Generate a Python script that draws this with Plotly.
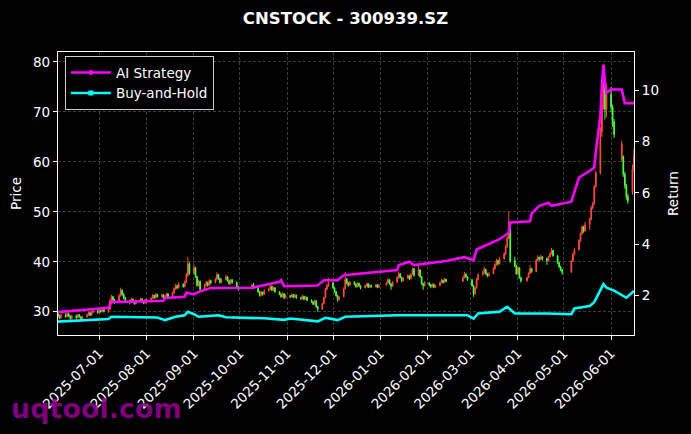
import pandas as pd
import plotly.graph_objects as go

# ---------------- data ----------------
start_date = "2025-06-04"
end_date = "2026-06-16"
holidays = ["2025-10-01", "2025-10-02", "2025-10-03", "2025-10-06", "2025-10-07", "2025-10-08",
            "2026-01-01", "2026-01-02",
            "2026-02-16", "2026-02-17", "2026-02-18", "2026-02-19", "2026-02-20", "2026-02-23",
            "2026-04-06", "2026-05-01", "2026-05-04", "2026-05-05",
            "2026-06-04", "2026-06-05"]

opens = [
    29.6, 29.2, 28.8,
    29.4, 29.0, 29.6, 29.1, 28.7,
    29.2, 28.8, 29.4, 29.0, 28.5,
    29.0, 29.4, 29.8, 29.3, 29.9,
    30.2, 29.8, 30.3, 30.0, 30.6,
    30.1, 30.5, 32.2, 33.0, 32.4,
    32.0, 33.2, 34.3, 33.5, 32.8,
    32.2, 31.9, 32.5, 32.0, 31.6,
    32.2, 32.6, 32.0, 31.7, 32.4,
    32.0, 32.7, 33.3, 32.8, 33.5,
    33.0, 33.4, 32.7, 33.1, 33.6,
    33.0, 33.8, 34.6, 35.2, 34.8,
    35.5, 35.0, 35.9, 37.3, 39.6,
    37.8, 38.8, 37.0, 35.3, 36.1,
    34.5, 35.3, 35.9, 35.3, 36.2,
    35.8, 36.5, 37.4, 36.6, 35.9,
    36.4, 37.0, 36.2, 35.6, 36.4,
    35.9, 35.0, 34.6, 35.3,
    34.9, 34.0, 33.3, 33.9, 33.5,
    34.2, 34.6, 35.1, 34.3, 34.8,
    34.0, 33.5, 33.0, 33.6, 32.8,
    33.2, 33.0, 33.4, 32.9, 33.3,
    32.8, 32.6, 33.1, 32.5, 32.9,
    32.3, 32.0, 31.5, 32.2, 31.0,
    30.5, 31.6, 32.8, 34.5, 35.2,
    35.8, 34.8, 34.0, 33.2, 32.5,
    33.0, 34.6, 36.5, 35.8, 35.3,
    35.9, 35.5, 35.0, 35.7, 35.2,
    34.8, 35.2, 35.6, 34.9, 35.3,
    35.0, 35.4, 34.9,
    35.3, 35.8, 36.4, 35.6, 35.1,
    35.9, 36.8, 37.6, 36.9, 36.2,
    36.7, 37.2, 36.6, 37.5, 38.6,
    37.3, 38.4, 37.0, 35.6, 35.2,
    35.8, 35.4, 35.0, 35.5, 34.9,
    35.2, 35.8, 36.3, 35.9, 36.5,
    36.1, 36.8, 37.5, 37.0,
    36.4, 35.2, 33.6, 34.8, 36.5,
    37.4, 37.8, 38.5, 37.6, 37.2,
    37.6, 38.6, 39.4, 40.2, 39.6,
    40.6, 41.5, 43.0, 44.8, 46.5,
    40.2, 39.2, 37.6, 38.8, 36.8,
    36.2, 36.8, 37.6, 38.6,
    38.0, 40.3, 40.9, 40.5, 41.0,
    40.6, 40.2, 41.0, 41.6, 42.3,
    41.2, 39.8, 39.0, 38.3,
    37.9, 40.2, 41.5,
    42.4, 44.2, 45.6, 47.0, 46.2,
    47.4, 48.5, 50.8, 51.6, 55.0,
    57.8, 66.0, 71.5, 76.5, 70.5,
    73.5, 71.0, 68.0,
    60.5, 61.0, 57.5, 55.2, 53.0,
    54.0, 58.5,
]
highs = [
    29.9, 29.4, 29.6,
    29.7, 29.8, 29.8, 29.3, 29.4,
    29.4, 29.6, 29.5, 29.1, 29.2,
    29.6, 30.0, 29.9, 30.1, 30.4,
    30.3, 30.5, 30.4, 30.8, 30.7,
    30.6, 32.5, 33.4, 33.2, 32.6,
    33.5, 34.8, 34.5, 33.7, 33.0,
    32.4, 32.8, 32.6, 32.1, 32.5,
    32.8, 32.7, 32.2, 32.6, 32.5,
    32.9, 33.5, 33.4, 33.7, 33.6,
    33.6, 33.5, 33.3, 33.8, 33.7,
    34.0, 34.9, 35.6, 35.4, 35.9,
    35.7, 36.3, 37.8, 41.0, 39.9,
    39.4, 39.0, 37.2, 36.4, 36.2,
    35.6, 36.2, 36.0, 36.5, 36.4,
    36.8, 37.9, 37.6, 36.8, 36.7,
    37.4, 37.1, 36.4, 36.6, 36.5,
    36.0, 35.2, 35.6, 35.8,
    35.0, 34.2, 34.2, 34.0, 34.5,
    34.9, 35.4, 35.2, 35.0, 34.9,
    34.1, 33.7, 33.9, 33.7, 33.5,
    33.3, 33.7, 33.5, 33.6, 33.4,
    33.0, 33.4, 33.2, 33.1, 33.0,
    32.5, 32.1, 32.4, 32.3, 31.2,
    31.8, 33.0, 34.8, 35.5, 36.8,
    36.0, 35.0, 34.2, 33.4, 33.2,
    34.9, 38.0, 36.8, 36.0, 36.2,
    36.1, 35.7, 35.9, 35.8, 35.3,
    35.4, 35.8, 35.7, 35.5, 35.4,
    35.6, 35.5, 35.5,
    36.0, 36.8, 36.5, 35.7, 36.1,
    37.1, 38.0, 37.7, 37.0, 36.9,
    37.5, 37.3, 37.7, 38.9, 38.7,
    39.4, 38.5, 37.1, 35.8, 36.1,
    35.9, 35.5, 35.7, 35.6, 35.4,
    36.0, 36.6, 36.4, 36.8, 36.6,
    37.1, 38.0, 37.7, 37.1,
    36.5, 35.4, 35.0, 36.8, 37.7,
    38.2, 39.0, 38.6, 37.8, 37.9,
    38.9, 39.7, 40.6, 40.4, 41.0,
    41.9, 43.4, 45.2, 50.0, 46.8,
    41.0, 39.4, 39.1, 38.9, 37.0,
    37.0, 37.9, 39.4, 38.8,
    40.6, 41.3, 41.0, 41.4, 41.1,
    40.8, 41.2, 41.9, 42.8, 42.4,
    41.3, 40.0, 39.2, 38.6,
    40.4, 41.8, 42.8,
    44.5, 45.9, 47.3, 47.2, 48.0,
    48.8, 51.2, 52.0, 55.4, 58.2,
    67.0, 72.5, 79.2, 77.0, 75.6,
    75.0, 71.5, 68.6,
    64.2, 61.3, 58.0, 55.6, 53.6,
    59.5, 62.6,
]
lows = [
    28.9, 28.5, 28.6,
    28.8, 28.9, 29.0, 28.4, 28.5,
    28.6, 28.7, 28.8, 28.3, 28.3,
    28.8, 29.2, 29.1, 29.2, 29.7,
    29.6, 29.7, 29.8, 29.9, 29.9,
    29.8, 30.4, 32.0, 32.1, 31.6,
    31.9, 33.0, 33.2, 32.5, 31.9,
    31.5, 31.7, 31.8, 31.4, 31.5,
    32.0, 31.8, 31.5, 31.6, 31.8,
    31.9, 32.5, 32.6, 32.7, 32.8,
    32.9, 32.5, 32.5, 33.0, 32.8,
    32.9, 33.6, 34.4, 34.5, 34.7,
    34.8, 34.9, 35.7, 37.0, 37.4,
    37.5, 36.8, 35.0, 35.1, 34.2,
    34.4, 35.1, 35.0, 35.2, 35.5,
    35.7, 36.3, 36.4, 35.6, 35.7,
    36.2, 36.0, 35.4, 35.5, 35.6,
    34.8, 34.2, 34.5, 34.6,
    33.8, 33.0, 33.2, 33.2, 33.4,
    34.0, 34.4, 34.1, 34.2, 33.8,
    33.3, 32.8, 32.9, 32.5, 32.7,
    32.7, 32.9, 32.7, 32.8, 32.6,
    32.4, 32.5, 32.3, 32.4, 32.1,
    31.8, 31.3, 31.4, 30.8, 30.0,
    30.4, 31.5, 32.7, 34.3, 35.0,
    34.6, 33.8, 33.0, 32.0, 32.2,
    32.9, 34.5, 35.5, 35.0, 35.2,
    35.3, 34.8, 34.9, 35.0, 34.5,
    34.7, 35.1, 34.7, 34.8, 34.8,
    34.9, 34.7, 34.8,
    35.2, 35.7, 35.4, 34.4, 35.0,
    35.8, 36.6, 36.7, 35.9, 36.1,
    36.6, 36.3, 36.5, 37.4, 37.0,
    37.2, 36.8, 35.4, 34.4, 35.1,
    35.1, 34.7, 34.9, 34.7, 34.8,
    35.1, 35.7, 35.6, 35.8, 35.9,
    36.0, 36.7, 36.8, 36.2,
    35.0, 33.0, 33.4, 34.6, 36.3,
    37.2, 37.6, 37.4, 36.9, 37.1,
    37.5, 38.4, 39.2, 39.3, 39.5,
    40.4, 41.3, 42.8, 44.5, 39.8,
    38.9, 37.4, 37.5, 36.6, 35.8,
    36.0, 36.7, 37.5, 37.8,
    37.9, 40.1, 40.2, 40.4, 40.2,
    39.4, 40.1, 40.9, 41.5, 41.0,
    39.6, 38.8, 38.1, 37.4,
    37.8, 40.0, 41.3,
    42.3, 44.0, 45.4, 45.8, 46.0,
    46.4, 48.3, 50.5, 51.4, 54.8,
    57.5, 65.0, 70.5, 68.5, 69.0,
    70.0, 67.0, 64.8,
    60.0, 57.0, 54.6, 52.4, 51.6,
    53.4, 58.0,
]
closes = [
    29.2, 28.8, 29.4,
    29.0, 29.6, 29.1, 28.7, 29.2,
    28.8, 29.4, 29.0, 28.5, 29.0,
    29.4, 29.8, 29.3, 29.9, 30.2,
    29.8, 30.3, 30.0, 30.6, 30.1,
    30.4, 32.2, 33.0, 32.4, 32.0,
    33.2, 34.3, 33.5, 32.8, 32.2,
    31.9, 32.5, 32.0, 31.6, 32.2,
    32.6, 32.0, 31.7, 32.4, 32.0,
    32.7, 33.3, 32.8, 33.5, 33.0,
    33.4, 32.7, 33.1, 33.6, 33.0,
    33.8, 34.6, 35.2, 34.8, 35.5,
    35.0, 35.9, 37.3, 39.6, 37.8,
    38.8, 37.0, 35.3, 36.1, 34.5,
    35.3, 35.9, 35.3, 36.2, 35.8,
    36.5, 37.4, 36.6, 35.9, 36.4,
    37.0, 36.2, 35.6, 36.4, 35.9,
    35.0, 34.6, 35.3, 34.9,
    34.0, 33.3, 33.9, 33.5, 34.2,
    34.6, 35.1, 34.3, 34.8, 34.0,
    33.5, 33.0, 33.6, 32.8, 33.2,
    33.0, 33.4, 32.9, 33.3, 32.8,
    32.6, 33.1, 32.5, 32.9, 32.3,
    32.0, 31.5, 32.2, 31.0, 30.5,
    31.6, 32.8, 34.5, 35.2, 35.8,
    34.8, 34.0, 33.2, 32.5, 33.0,
    34.6, 36.5, 35.8, 35.3, 35.9,
    35.5, 35.0, 35.7, 35.2, 34.8,
    35.2, 35.6, 34.9, 35.3, 35.0,
    35.4, 34.9, 35.3,
    35.8, 36.4, 35.6, 35.1, 35.9,
    36.8, 37.6, 36.9, 36.2, 36.7,
    37.2, 36.6, 37.5, 38.6, 37.3,
    38.4, 37.0, 35.6, 35.2, 35.8,
    35.4, 35.0, 35.5, 34.9, 35.2,
    35.8, 36.3, 35.9, 36.5, 36.1,
    36.8, 37.5, 37.0, 36.4,
    35.2, 33.6, 34.8, 36.5, 37.4,
    37.8, 38.5, 37.6, 37.2, 37.6,
    38.6, 39.4, 40.2, 39.6, 40.6,
    41.5, 43.0, 44.8, 46.5, 40.2,
    39.2, 37.6, 38.8, 36.8, 36.2,
    36.8, 37.6, 38.6, 38.0,
    40.3, 40.9, 40.5, 41.0, 40.6,
    40.2, 41.0, 41.6, 42.3, 41.2,
    39.8, 39.0, 38.3, 37.9,
    40.2, 41.5, 42.4,
    44.2, 45.6, 47.0, 46.2, 47.4,
    48.5, 50.8, 51.6, 55.0, 57.8,
    66.0, 71.5, 76.5, 70.5, 73.5,
    71.0, 68.0, 65.5,
    63.6, 57.5, 55.2, 53.0, 52.2,
    58.5, 61.5,
]

ai_dates = ["2025-06-04", "2025-07-07", "2025-07-09", "2025-07-31", "2025-08-12", "2025-08-13",
            "2025-08-26", "2025-08-27", "2025-09-01", "2025-09-04", "2025-09-12", "2025-10-09",
            "2025-10-27", "2025-10-28", "2025-10-30", "2025-11-21", "2025-11-25", "2025-12-04",
            "2025-12-08", "2026-01-12", "2026-01-13", "2026-01-20", "2026-01-23", "2026-02-13",
            "2026-02-25", "2026-03-03", "2026-03-05", "2026-03-20", "2026-03-26", "2026-03-27",
            "2026-04-09", "2026-04-10", "2026-04-15", "2026-04-21", "2026-04-23", "2026-05-06",
            "2026-05-11", "2026-05-20", "2026-05-21", "2026-05-22", "2026-05-25", "2026-05-26",
            "2026-05-27", "2026-05-28", "2026-05-29", "2026-06-01", "2026-06-08", "2026-06-10",
            "2026-06-16"]
ai_values = [1.36, 1.53, 1.75, 1.77, 1.80, 1.91,
             1.96, 2.12, 2.05, 2.15, 2.30, 2.31,
             2.54, 2.60, 2.37, 2.40, 2.60, 2.60,
             2.80, 3.00, 3.19, 3.32, 3.19, 3.35,
             3.50, 3.38, 3.80, 4.20, 4.45, 4.85,
             4.90, 5.20, 5.50, 5.62, 5.50, 5.66,
             6.60, 6.94, 7.00, 7.60, 9.00, 10.20,
             11.00, 10.30, 9.90, 10.03, 10.03, 9.50,
             9.50]

bh_dates = ["2025-06-04", "2025-07-07", "2025-07-09", "2025-08-08", "2025-08-13", "2025-08-20",
            "2025-08-26", "2025-08-28", "2025-09-01", "2025-09-04", "2025-09-17", "2025-09-22",
            "2025-10-17", "2025-10-30", "2025-11-03", "2025-11-17", "2025-11-21", "2025-11-26",
            "2025-12-04", "2025-12-09", "2026-01-12", "2026-02-27", "2026-03-03", "2026-03-06",
            "2026-03-20", "2026-03-25", "2026-03-30", "2026-04-20", "2026-05-06", "2026-05-08",
            "2026-05-18", "2026-05-21", "2026-05-27", "2026-05-29", "2026-06-03", "2026-06-11",
            "2026-06-16"]
bh_values = [0.99, 1.09, 1.18, 1.15, 1.05, 1.18,
             1.24, 1.37, 1.28, 1.18, 1.24, 1.16,
             1.12, 1.06, 1.11, 1.02, 1.00, 1.14,
             1.05, 1.18, 1.24, 1.24, 1.11, 1.31,
             1.38, 1.57, 1.31, 1.31, 1.28, 1.50,
             1.60, 1.75, 2.45, 2.31, 2.20, 1.92,
             2.18]

title_text = "CNSTOCK - 300939.SZ"
x_ticks = ["2025-07-01", "2025-08-01", "2025-09-01", "2025-10-01", "2025-11-01", "2025-12-01",
           "2026-01-01", "2026-02-01", "2026-03-01", "2026-04-01", "2026-05-01", "2026-06-01"]
price_ticks = [30, 40, 50, 60, 70, 80]
return_ticks = [2, 4, 6, 8, 10]

# ---------------- build ----------------
trade_days = pd.bdate_range(start_date, end_date, freq="C", holidays=holidays)
n = min(len(trade_days), len(opens), len(highs), len(lows), len(closes))
trade_days = trade_days[:n]

RED = "#ff4a3d"
GREEN = "#4dff3a"
FONT = "DejaVu Sans"
WHITE = "#ffffff"

fig = go.Figure()
fig.add_trace(go.Candlestick(
    x=trade_days, open=opens[:n], high=highs[:n], low=lows[:n], close=closes[:n],
    increasing=dict(line=dict(color=RED, width=1), fillcolor=RED),
    decreasing=dict(line=dict(color=GREEN, width=1), fillcolor=GREEN),
    whiskerwidth=0, showlegend=False, hoverinfo="skip", yaxis="y"))

fig.add_trace(go.Scatter(x=pd.to_datetime(ai_dates), y=ai_values, mode="lines",
                         line=dict(color="#ff00ff", width=2.6), yaxis="y2", showlegend=False))
fig.add_trace(go.Scatter(x=pd.to_datetime(bh_dates), y=bh_values, mode="lines",
                         line=dict(color="#00ffff", width=2.6), yaxis="y2", showlegend=False))

# legend entries
fig.add_trace(go.Scatter(x=[None], y=[None], mode="lines+markers", name="AI Strategy",
                         line=dict(color="#ff00ff", width=2.6),
                         marker=dict(symbol="circle", size=5, color="#ff00ff"), yaxis="y2"))
fig.add_trace(go.Scatter(x=[None], y=[None], mode="lines+markers", name="Buy-and-Hold",
                         line=dict(color="#00ffff", width=2.6),
                         marker=dict(symbol="square", size=5, color="#00ffff"), yaxis="y2"))

grid = "rgba(130,130,130,0.45)"
fig.update_layout(
    width=691, height=434,
    paper_bgcolor="#000000", plot_bgcolor="#000000",
    margin=dict(l=58, r=57, t=52, b=99),
    font=dict(family=FONT, size=13.5, color=WHITE),
    title=dict(text="<b>" + title_text + "</b>", x=0.5, xanchor="center", y=0.958, yanchor="middle",
               font=dict(family=FONT, size=16.5, color=WHITE)),
    xaxis=dict(type="date", range=[start_date, end_date], rangeslider=dict(visible=False),
               tickvals=x_ticks, ticktext=x_ticks, tickangle=-45,
               ticks="outside", ticklen=4, tickcolor=WHITE, tickwidth=1,
               showline=True, linecolor=WHITE, linewidth=1.3, mirror=True,
               showgrid=True, gridcolor=grid, griddash="3px,2px", gridwidth=0.7,
               zeroline=False, tickfont=dict(size=13.5, color=WHITE)),
    yaxis=dict(range=[25.34, 82.0], tickvals=price_ticks, ticks="outside", ticklen=4,
               tickcolor=WHITE, showline=True, linecolor=WHITE, linewidth=1.3, mirror=True,
               showgrid=True, gridcolor=grid, griddash="3px,2px", gridwidth=0.7, zeroline=False,
               title=dict(text="Price", standoff=8, font=dict(size=13.5, color=WHITE)),
               tickfont=dict(size=13.5, color=WHITE)),
    yaxis2=dict(range=[0.47, 11.49], overlaying="y", side="right", tickvals=return_ticks,
                ticks="outside", ticklen=4, tickcolor=WHITE, showline=True, linecolor=WHITE,
                linewidth=1.3, showgrid=False, zeroline=False,
                title=dict(text="Return", standoff=10, font=dict(size=13.5, color=WHITE)),
                tickfont=dict(size=13.5, color=WHITE)),
    legend=dict(x=0.012, y=0.985, xanchor="left", yanchor="top", bgcolor="#000000",
                bordercolor="#cccccc", borderwidth=1, font=dict(size=13.5, color=WHITE),
                itemwidth=40, tracegroupgap=2),
    showlegend=True,
)

fig.add_annotation(text="<b>uqtool.com</b>", xref="paper", yref="paper", x=-0.085, y=-0.258,
                   xanchor="left", yanchor="middle", showarrow=False,
                   font=dict(family=FONT, size=27, color="rgba(150,0,150,0.85)"))

fig.write_html("out.html")
